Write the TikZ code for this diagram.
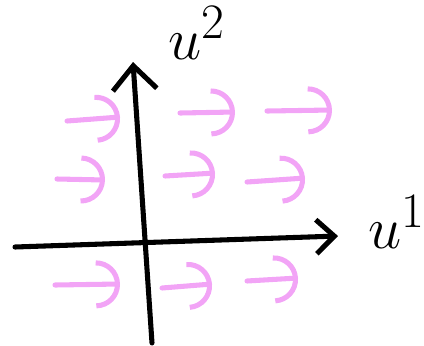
\documentclass[tikz,border=0pt]{standalone}
\usepackage{amsmath}
\usepackage{graphicx}
\usepackage{xcolor}
\usepackage{tikz}
\usetikzlibrary{arrows.meta}
\definecolor{fieldpink}{RGB}{242,164,246}
\newcommand{\axlabel}[1]{\scalebox{1.7}{$#1$}}

\begin{document}
\begin{tikzpicture}[x=0.025cm, y=-0.025cm, line cap=round, line join=round,
  axis/.style={line width=3.6pt, -{Straight Barb[length=6mm,width=11mm]}},
  vec/.style={draw=fieldpink, line width=3.6pt, -{Arc Barb[length=6mm,width=12mm]}},
  every node/.style={font=\fontsize{24.88}{30}\selectfont, inner sep=0pt}]
\useasboundingbox (0,0) rectangle (424,345);
\coordinate (xl) at (15,247);
\coordinate (xr) at (338,236);
\coordinate (yb) at (152,343);
\coordinate (yt) at (133,62);
\draw[axis, -{Straight Barb[length=4.5mm,width=8.5mm]}] (xl) -- (xr);
\draw[axis] (yb) -- (yt);
\node (uone) at (397,222) {\axlabel{u^1}};
\node (utwo) at (197,33) {\axlabel{u^2}};
% field vectors
\foreach \n/\x/\y/\a/\b in {a1/67/121/120/117, a2/180/113/235/112, a3/267/111/332/110,
    b1/57/179/105/180, b2/165/176/215/173, b3/247/182/305/178,
    c1/55/285/120/284, c2/162/288/212/284, c3/247/281/298/278}{
  \coordinate (\n s) at (\x,\y);
  \coordinate (\n e) at (\a,\b);
  \draw[vec] (\n s) -- (\n e);
}
\end{tikzpicture}
\end{document}
